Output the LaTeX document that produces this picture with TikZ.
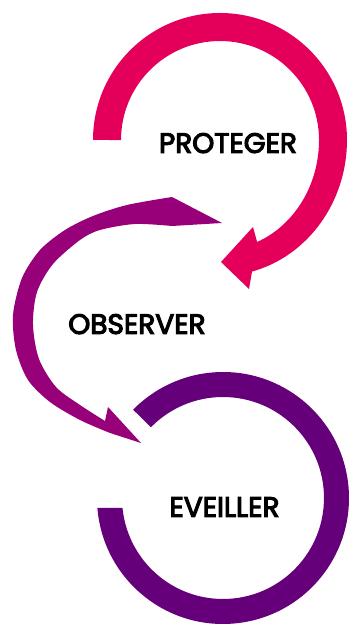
\documentclass[tikz,border=0pt]{standalone}
\usepackage{fontspec}
\newfontfamily\lblfont{Poppins}[FakeBold=4]
\usepackage{xcolor}
\usepackage{tikz}
\usetikzlibrary{arrows.meta,positioning}

\definecolor{protcol}{HTML}{E4005A}
\definecolor{obscol}{HTML}{980079}
\definecolor{eveilcol}{HTML}{65007A}

\begin{document}
\begin{tikzpicture}[x=1pt,y=1pt,
    lbl/.style={inner sep=0pt,text depth=0pt,font=\lblfont\fontsize{28}{28}\selectfont}]
  \useasboundingbox (0,0) rectangle (350,632);
  % top loop, arrow at the bottom
  \fill[protcol] (93,492) arc[start angle=180, end angle=0, radius=127]
    arc[start angle=0, end angle=-75.4, x radius=127, y radius=136]
    -- (249,343) -- (221,370) -- (253,405) -- (257.1,390)
    arc[start angle=-68, end angle=0, x radius=99, y radius=110]
    arc[start angle=0, end angle=180, radius=99] -- cycle;
  % middle swoosh
  \fill[obscol] plot[smooth] coordinates {(172,435) (127,427) (93,416) (65,402)
      (40,382) (22,354) (13,317) (16,282) (28,252) (50,230) (80,212) (110,199)}
    -- (141,189) -- (108,225)
    -- plot[smooth] coordinates {(105,211) (80,227) (56,245) (39,273) (33,307)
      (37,340) (53,368) (80,392) (100,402) (135,408) (172,406)}
    -- (222,409) -- cycle;
  % bottom loop
  \fill[eveilcol] ([shift={(223,134)}]184.5:126)
    arc[start angle=184.5, end angle=495.5, radius=126]
    -- ([shift={(223,134)}]135.5:101)
    arc[start angle=135.5, end angle=-174.4, radius=101] -- cycle;

  \node[lbl] (prot)  at (228,489) {PROTEGER};
  \node[lbl] (obs)   at (137,308) {OBSERVER};
  \node[lbl] (eveil) at (224.5,125) {EVEILLER};
\end{tikzpicture}
\end{document}
